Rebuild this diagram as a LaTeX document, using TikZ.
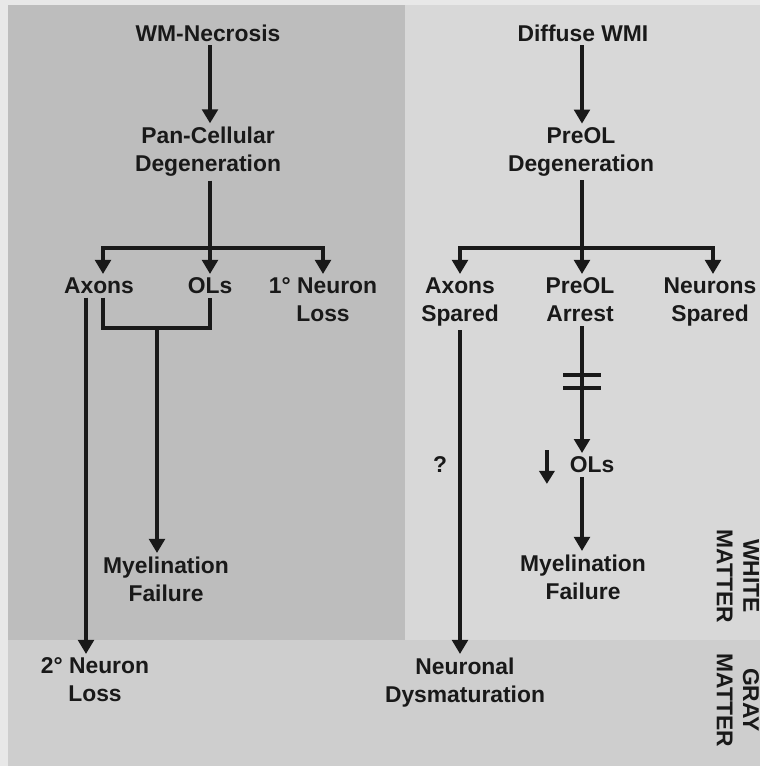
\documentclass[tikz,border=0pt]{standalone}
\usepackage{fontspec}
\setmainfont{Liberation Sans}
\usepackage{tikz}
\usetikzlibrary{positioning,arrows.meta,calc}
\definecolor{margin}{RGB}{232,232,232}
\definecolor{necro}{RGB}{189,189,189}
\definecolor{diffuse}{RGB}{216,216,216}
\definecolor{graym}{RGB}{206,206,206}
\definecolor{ink}{RGB}{25,25,25}
\tikzset{
  lbl/.style={align=center,font=\fontsize{13}{16}\selectfont\bfseries,text=ink,inner sep=2pt},
  zone/.style={font=\fontsize{13}{15}\selectfont\bfseries,align=center,rotate=-90,text=ink,inner sep=1pt},
  ln/.style={line width=2pt,ink},
  ar/.style={ln,-{Triangle[length=2.8mm,width=3.1mm]}},
  sar/.style={line width=2.4pt,ink,-{Triangle[length=2.6mm,width=3mm]}},
}

\begin{document}
\begin{tikzpicture}
  \useasboundingbox (0,0) rectangle (15.2,15.32);
  \fill[margin] (0,0) rectangle (15.2,15.32);
  \fill[necro] (0.16,2.52) rectangle (8.1,15.22);
  \fill[diffuse] (8.1,2.52) rectangle (15.2,15.22);
  \fill[graym] (0.16,0) rectangle (15.2,2.52);

  % WM-necrosis side
  \node[lbl] (lnec) at (4.16,14.66) {WM-Necrosis};
  \node[lbl] (lpan) at (4.16,12.28) {Pan-Cellular\\Degeneration};
  \node[lbl,anchor=north] (laxons) at (1.98,9.84) {Axons};
  \node[lbl,anchor=north] (lols) at (4.2,9.84) {OLs};
  \node[lbl,anchor=north] (lprim) at (6.46,9.84) {1° Neuron\\Loss};
  \node[lbl,anchor=north] (lmyel) at (3.32,4.26) {Myelination\\Failure};
  \node[lbl,anchor=north] (lsec) at (1.9,2.24) {2° Neuron\\Loss};
  \coordinate (lsplit) at (4.2,10.36);
  \coordinate (lbr) at (3.14,8.76);

  \draw[ar] (lnec.south -| lsplit) -- (lsplit |- lpan.north);
  \draw[ln] (lpan.south -| lsplit) -- (lsplit);
  \draw[ar] (lsplit) -| ([xshift=0.08cm]laxons.north);
  \draw[ar] (lsplit) -- (lols);
  \draw[ar] (lsplit) -| (lprim);
  \draw[ln] ([xshift=0.08cm]laxons.south) |- (lbr) -| (lols.south);
  \draw[ar] (lbr) -- (lbr |- lmyel.north);
  \draw[ar] ([xshift=-0.26cm]laxons.south) -- ([xshift=-0.26cm]laxons.south |- lsec.north);

  % diffuse WMI side
  \node[lbl] (rdif) at (11.66,14.66) {Diffuse WMI};
  \node[lbl] (rpre) at (11.62,12.28) {PreOL\\Degeneration};
  \node[lbl,anchor=north] (raxons) at (9.2,9.84) {Axons\\Spared};
  \node[lbl,anchor=north] (rarr) at (11.6,9.84) {PreOL\\Arrest};
  \node[lbl,anchor=north] (rneur) at (14.2,9.84) {Neurons\\Spared};
  \node[lbl] (rols) at (11.84,6.02) {OLs};
  \node[lbl] (rq) at (8.8,6.02) {?};
  \node[lbl,anchor=north] (rmyel) at (11.66,4.30) {Myelination\\Failure};
  \node[lbl,anchor=north] (rdys) at (9.3,2.24) {Neuronal\\Dysmaturation};
  \coordinate (rsplit) at (11.64,10.36);

  \draw[ar] (rdif.south -| rsplit) -- (rsplit |- rpre.north);
  \draw[ln] (rpre.south -| rsplit) -- (rsplit);
  \draw[ar] (rsplit) -| (raxons);
  \draw[ar] (rsplit) -- (rsplit |- rarr.north);
  \draw[ar] (rsplit) -| ([xshift=0.06cm]rneur.north);
  \draw[ar] (raxons) -- (raxons |- rdys.north);
  \draw[ar] (rarr.south -| rsplit) -- (rsplit |- rols.north);
  \draw[ln] ([xshift=-0.38cm]$(rarr.south -| rsplit)+(0,-0.98)$) -- ++(0.76,0);
  \draw[ln] ([xshift=-0.38cm]$(rarr.south -| rsplit)+(0,-1.24)$) -- ++(0.76,0);
  \draw[sar] ([xshift=-0.38cm,yshift=0.06cm]rols.north west) -- ([xshift=-0.38cm,yshift=-0.14cm]rols.south west);
  \draw[ar] (rsplit |- rols.south) -- (rsplit |- rmyel.north);

  % zone labels
  \node[zone] (white) at (14.76,3.8) {WHITE\\MATTER};
  \node[zone] (gray) at (14.76,1.32) {GRAY\\MATTER};
\end{tikzpicture}
\end{document}
